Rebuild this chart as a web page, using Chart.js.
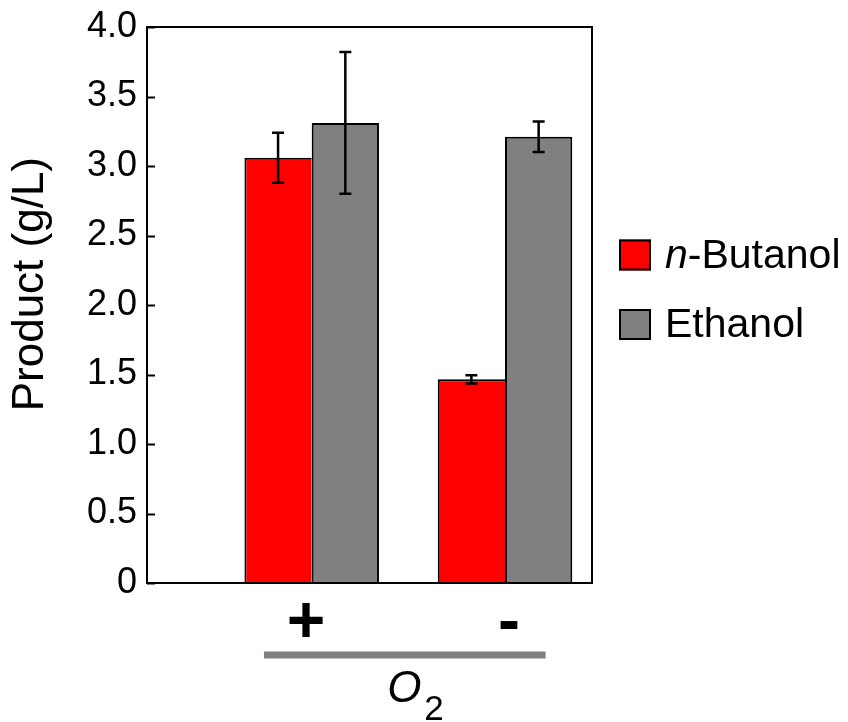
<!DOCTYPE html>
<html>
<head>
<meta charset="utf-8">
<script src="https://cdn.jsdelivr.net/npm/chart.js@4.4.0/dist/chart.umd.min.js"></script>
<style>
html, body { margin: 0; padding: 0; background: #fff; }
#wrap { width: 848px; height: 722px; }
</style>
</head>
<body>
<div id="wrap"><canvas id="chart"></canvas></div>
<script>
// groups on the x axis (O2 present / absent)
var groupLabels = ["+", "-"];
var groupPositions = [1, 2];
var labelPositions = [0.97, 2.02];

// product titres in g/L with error bars
var butanol = [3.06, 1.465];
var butanolErr = [0.18, 0.03];
var ethanol = [3.31, 3.21];
var ethanolErr = [0.51, 0.11];

var seriesNames = ["n-Butanol", "Ethanol"];
var seriesColors = ["#ff0000", "#808080"];

var yMin = 0;
var yMax = 4;
var yStep = 0.5;
var yTitle = "Product (g/L)";

var FONT = "'Liberation Sans', Arial, sans-serif";

var toPoints = (ys) => groupPositions.map((x, i) => ({ x: x, y: ys[i] }));

var errorBars = {
    id: "errorBars",
    afterDatasetsDraw: (chart) => {
        var ctx = chart.ctx;
        var yScale = chart.scales.y;
        var errs = [butanolErr, ethanolErr];
        var vals = [butanol, ethanol];
        ctx.save();
        ctx.strokeStyle = "#000";
        ctx.lineWidth = 2.5;
        chart.data.datasets.forEach((ds, d) => {
            var meta = chart.getDatasetMeta(d);
            meta.data.forEach((bar, i) => {
                var top = yScale.getPixelForValue(vals[d][i] + errs[d][i]);
                var bot = yScale.getPixelForValue(vals[d][i] - errs[d][i]);
                var x = bar.x;
                ctx.beginPath();
                ctx.moveTo(x, top); ctx.lineTo(x, bot);
                ctx.moveTo(x - 6, top); ctx.lineTo(x + 6, top);
                ctx.moveTo(x - 6, bot); ctx.lineTo(x + 6, bot);
                ctx.stroke();
            });
        });
        ctx.restore();
    }
};

var frame = {
    id: "frame",
    afterDraw: (chart) => {
        var ctx = chart.ctx;
        var a = chart.chartArea;
        var yScale = chart.scales.y;
        var xScale = chart.scales.x;
        ctx.save();
        // plot box
        ctx.strokeStyle = "#000";
        ctx.lineWidth = 2;
        ctx.strokeRect(a.left, a.top, a.right - a.left, a.bottom - a.top);
        // inward y ticks
        yScale.ticks.forEach((t) => {
            var y = Math.round(yScale.getPixelForValue(t.value)) + 0.5;
            ctx.beginPath();
            ctx.moveTo(a.left, y);
            ctx.lineTo(a.left + 8, y);
            ctx.stroke();
        });
        // y title, sitting a little above the middle like the original
        ctx.save();
        ctx.translate(31, yScale.getPixelForValue(2.15));
        ctx.rotate(-Math.PI / 2);
        ctx.fillStyle = "#000";
        ctx.font = "44px " + FONT;
        ctx.textAlign = "center";
        ctx.textBaseline = "middle";
        ctx.fillText(yTitle, 0, 0);
        ctx.restore();
        // grey bar under the group labels
        ctx.strokeStyle = "#808080";
        ctx.lineWidth = 7;
        ctx.beginPath();
        ctx.moveTo(xScale.getPixelForValue(0.753), a.bottom + 72);
        ctx.lineTo(xScale.getPixelForValue(2.21), a.bottom + 72);
        ctx.stroke();
        // O2 label
        var ox = xScale.getPixelForValue(1.5) - 21;
        ctx.fillStyle = "#000";
        ctx.textBaseline = "alphabetic";
        ctx.textAlign = "left";
        ctx.font = "italic 44px " + FONT;
        ctx.fillText("O", ox, a.bottom + 119);
        ctx.font = "35px " + FONT;
        ctx.fillText("2", ox + 37, a.bottom + 137);
        // legend
        var lx = a.right + 27;
        var centers = [a.top + 228, a.top + 297.5];
        centers.forEach((cy, i) => {
            ctx.fillStyle = seriesColors[i];
            ctx.fillRect(lx, cy - 15.5, 32, 31);
            ctx.strokeStyle = "#000";
            ctx.lineWidth = 2;
            ctx.strokeRect(lx + 1, cy - 14.5, 30, 29);
            ctx.fillStyle = "#000";
            ctx.textBaseline = "middle";
            var tx = lx + 46;
            var name = seriesNames[i];
            if (name.indexOf("n-") === 0) {
                ctx.font = "italic 41px " + FONT;
                ctx.fillText("n", tx, cy + 1.5);
                tx += ctx.measureText("n").width;
                name = name.slice(1);
            }
            ctx.font = "41px " + FONT;
            ctx.fillText(name, tx, cy + 1.5);
        });
        ctx.restore();
    }
};

var config = {
    type: "bar",
    data: {
        datasets: [
            {
                label: seriesNames[0],
                data: toPoints(butanol),
                backgroundColor: seriesColors[0],
                borderColor: "#000",
                borderWidth: { top: 2, left: 2, right: 0, bottom: 0 },
                borderSkipped: false
            },
            {
                label: seriesNames[1],
                data: toPoints(ethanol),
                backgroundColor: seriesColors[1],
                borderColor: "#000",
                borderWidth: { top: 2, left: 2, right: 2, bottom: 0 },
                borderSkipped: false
            }
        ]
    },
    options: {
        animation: false,
        responsive: true,
        maintainAspectRatio: false,
        categoryPercentage: 0.696,
        barPercentage: 1.0,
        layout: { padding: { top: 27, right: 256, left: 0, bottom: 0 } },
        plugins: {
            legend: { display: false },
            tooltip: { enabled: false }
        },
        scales: {
            x: {
                type: "linear",
                min: 0.148,
                max: 2.45,
                offset: false,
                grid: { display: false },
                border: { display: false },
                afterBuildTicks: (scale) => {
                    scale.ticks = labelPositions.map((v) => ({ value: v }));
                },
                afterFit: (scale) => {
                    scale.height = 139;
                    scale.paddingLeft = 0;
                    scale.paddingRight = 0;
                },
                ticks: {
                    autoSkip: false,
                    maxRotation: 0,
                    padding: 0,
                    color: "#000",
                    font: { family: FONT, size: 66, weight: "bold", lineHeight: 1 },
                    callback: (value) => groupLabels[labelPositions.indexOf(value)]
                }
            },
            y: {
                min: yMin,
                max: yMax,
                grid: { drawOnChartArea: false, drawTicks: false },
                border: { display: false },
                afterFit: (scale) => {
                    scale.width = 147;
                    scale.paddingTop = 0;
                    scale.paddingBottom = 0;
                },
                ticks: {
                    stepSize: yStep,
                    padding: 10,
                    color: "#000",
                    font: { family: FONT, size: 36 },
                    callback: (value) => value === 0 ? "0" : value.toFixed(1)
                }
            }
        }
    },
    plugins: [errorBars, frame]
};

new Chart(document.getElementById("chart"), config);
</script>
</body>
</html>
